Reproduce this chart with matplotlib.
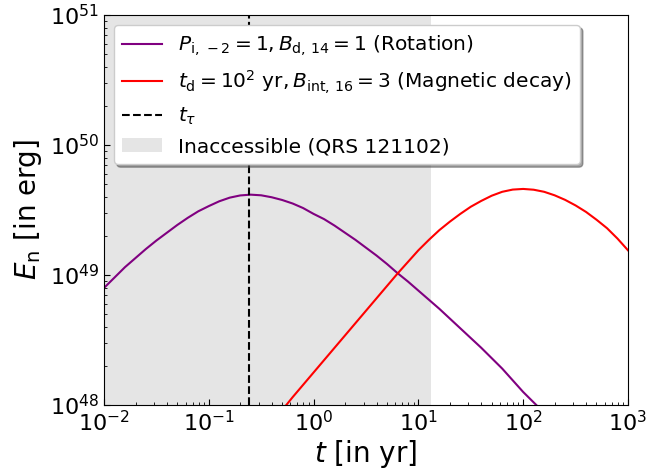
import numpy as np
import matplotlib
matplotlib.use("Agg")
import matplotlib.pyplot as plt

# Data (log10 of t in yr, log10 of E in erg)
rot_log_t = [-2.0, -1.9, -1.8, -1.7, -1.6, -1.5, -1.4, -1.3, -1.2, -1.1, -1.0, -0.9,
             -0.8, -0.7, -0.6, -0.5, -0.4, -0.3, -0.2, -0.1, 0.0, 0.1, 0.2, 0.3,
             0.4, 0.5, 0.6, 0.7, 0.8, 0.9, 1.0, 1.1, 1.2, 1.3, 1.4, 1.5, 1.6, 1.7,
             1.8, 1.9, 2.0, 2.1, 2.15]
rot_log_E = [48.90, 48.98, 49.06, 49.13, 49.20, 49.265, 49.325, 49.385, 49.44, 49.49,
             49.53, 49.567, 49.595, 49.612, 49.618, 49.613, 49.598, 49.577, 49.55,
             49.515, 49.47, 49.43, 49.38, 49.325, 49.27, 49.21, 49.15, 49.085, 49.015,
             48.95, 48.88, 48.81, 48.74, 48.665, 48.59, 48.515, 48.44, 48.36, 48.28,
             48.19, 48.10, 48.02, 47.98]

mag_log_t = [-0.3, -0.2, -0.1, 0.0, 0.1, 0.2, 0.3, 0.4, 0.5, 0.6, 0.7, 0.8, 0.9,
             1.0, 1.1, 1.2, 1.3, 1.4, 1.5, 1.6, 1.7, 1.8, 1.9, 2.0, 2.1, 2.2, 2.3,
             2.4, 2.5, 2.6, 2.7, 2.8, 2.9, 3.0]
mag_log_E = [47.96, 48.06, 48.155, 48.25, 48.345, 48.44, 48.535, 48.63, 48.725, 48.82,
             48.915, 49.01, 49.10, 49.19, 49.27, 49.345, 49.41, 49.47, 49.525, 49.57,
             49.61, 49.64, 49.657, 49.662, 49.656, 49.64, 49.613, 49.578, 49.535,
             49.485, 49.425, 49.36, 49.28, 49.19]

t_tau = 0.241
t_inaccessible = 13.2

labels = [r"$P_{\rm i,\,-2}=1, B_{\rm d,\,14}=1$ (Rotation)",
          r"$t_{\rm d}=10^2\ {\rm yr}, B_{\rm int,\,16}=3$ (Magnetic decay)",
          r"$t_\tau$",
          "Inaccessible (QRS 121102)"]

fig = plt.figure(figsize=(6.47, 4.70), dpi=100)
ax = fig.add_axes([0.1607, 0.1383, 0.8099, 0.8298])

t_rot = 10 ** np.array(rot_log_t)
E_rot = 10 ** np.array(rot_log_E)
t_mag = 10 ** np.array(mag_log_t)
E_mag = 10 ** np.array(mag_log_E)

ax.plot(t_rot, E_rot, color="purple", lw=1.5, label=labels[0])
ax.plot(t_mag, E_mag, color="red", lw=1.5, label=labels[1])
ax.axvline(t_tau, color="black", ls="--", lw=1.5, label=labels[2])
ax.axvspan(1e-2, t_inaccessible, color="#e5e5e5", lw=0, label=labels[3], zorder=0)

ax.set_xscale("log")
ax.set_yscale("log")
ax.set_xlim(1e-2, 1e3)
ax.set_ylim(1e48, 1e51)

ax.tick_params(which="both", direction="in", labelsize=16)
ax.tick_params(which="major", length=4)
ax.tick_params(which="minor", length=2.5)

ax.set_xlabel(r"$t$ [in yr]", fontsize=20, labelpad=2)
ax.set_ylabel(r"$E_{\rm n}$ [in erg]", fontsize=20)

ax.legend(loc="upper left", fontsize=14.5, shadow=True, fancybox=True)

fig.savefig("out.png", dpi=100)
